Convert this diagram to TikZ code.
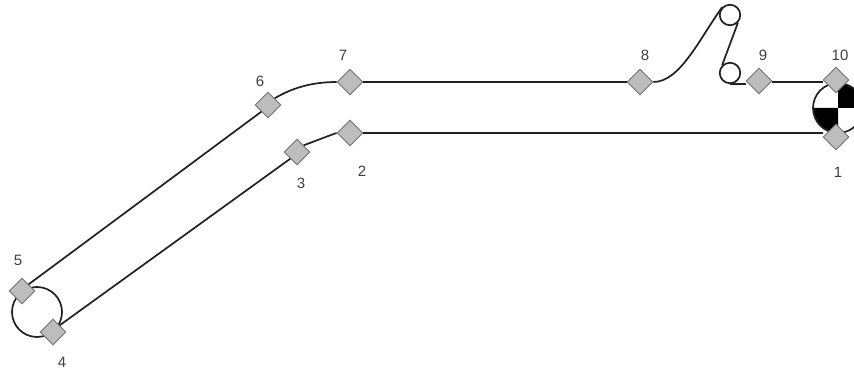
\documentclass[tikz,border=0pt]{standalone}
\usepackage{fontspec}
\setmainfont{Liberation Sans}
\usetikzlibrary{shapes.geometric}
\definecolor{belt}{gray}{0.13}
\definecolor{markfill}{gray}{0.74}
\definecolor{markline}{gray}{0.45}
\definecolor{lab}{gray}{0.25}
\tikzset{
  x=1pt,y=-1pt,
  marker/.style={diamond,draw=markline,fill=markfill,line width=0.9pt,minimum width=26pt,minimum height=26pt,inner sep=0pt},
  beltline/.style={draw=belt,line width=1.7pt},
  pulley/.style={circle,draw=belt,line width=1.7pt,fill=white,minimum size=20.5pt,inner sep=0pt},
  numlabel/.style={text=lab,font=\fontsize{15}{15}\selectfont,inner sep=0pt}
}
\begin{document}
\begin{tikzpicture}
\useasboundingbox (0,0) rectangle (854,374);
\clip (0,0) rectangle (854,374);
\fill[white] (0,0) rectangle (854,374);
% inertia wheel
\coordinate (hub) at (838,108);
\fill[white] (hub) circle (25);
\fill[black] (hub) -- (838,83) arc[start angle=90,end angle=0,x radius=25,y radius=-25] -- cycle;
\fill[black] (hub) -- (813,108) arc[start angle=180,end angle=270,x radius=25,y radius=-25] -- cycle;
\draw[beltline] (hub) circle (25);
% end loop
\coordinate (loop) at (37,312);
\draw[beltline] (loop) circle (25);
% pulleys
\node[pulley] (p1) at (730,15) {};
\node[pulley] (p2) at (730,73) {};
% markers
\node[marker] (m1) at (836,137) {};
\node[marker] (m2) at (350,133) {};
\node[marker] (m3) at (297,152) {};
\node[marker] (m4) at (53,332) {};
\node[marker] (m5) at (22,291) {};
\node[marker] (m6) at (268,105) {};
\node[marker] (m7) at (350,82) {};
\node[marker] (m8) at (640,82) {};
\node[marker] (m9) at (759,81) {};
\node[marker] (m10) at (836,80) {};
% connectors
\draw[beltline] (m2.east) -- (m2.east -| m1.west);
\draw[beltline] (m2.west) .. controls (328,136) and (318,140) .. (m3.north east);
\draw[beltline] (m3.south west) -- (m4.north east);
\draw[beltline] (m5.north east) -- (m6.south west);
\draw[beltline] (m6.north east) .. controls (292,88) and (312,82) .. (m7.west);
\draw[beltline] (m7.east) -- (m8.west);
\draw[beltline] (m8.east) .. controls (680,82) and (700,38) .. (p1.north west);
\draw[beltline] (p1.south east) -- (p2.north west);
\draw[beltline] (p2.south) -- (m9.west |- p2.south);
\draw[beltline] (m9.east |- m8) -- (m8 -| m10.west);
% labels
\node[numlabel] (l1) at (838,172) {1};
\node[numlabel] (l2) at (362,171) {2};
\node[numlabel] (l3) at (301,183) {3};
\node[numlabel] (l4) at (62,362) {4};
\node[numlabel] (l5) at (18,260) {5};
\node[numlabel] (l6) at (260,81) {6};
\node[numlabel] (l7) at (343,55) {7};
\node[numlabel] (l8) at (645,55) {8};
\node[numlabel] (l9) at (763,55) {9};
\node[numlabel] (l10) at (840,55) {10};
\end{tikzpicture}
\end{document}
